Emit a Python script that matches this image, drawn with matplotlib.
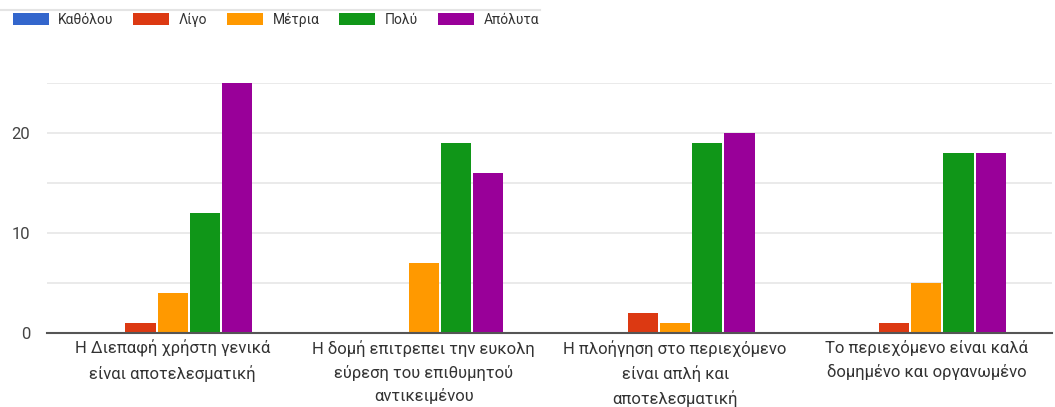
import matplotlib.pyplot as plt
import numpy as np
from matplotlib.lines import Line2D

plt.rcParams['font.family'] = ['Roboto', 'DejaVu Sans']

# Questions (x categories)
questions = [
    "Η Διεπαφή χρήστη γενικά\nείναι αποτελεσματική",
    "Η δομή επιτρεπει την ευκολη\nεύρεση του επιθυμητού\nαντικειμένου",
    "Η πλοήγηση στο περιεχόμενο\nείναι απλή και\nαποτελεσματική",
    "Το περιεχόμενο είναι καλά\nδομημένο και οργανωμένο",
]

# Answer scale and counts per answer
answers = ["Καθόλου", "Λίγο", "Μέτρια", "Πολύ", "Απόλυτα"]
katholou = [0, 0, 0, 0]
ligo = [1, 0, 2, 1]
metria = [4, 7, 1, 5]
poly = [12, 19, 19, 18]
apolyta = [25, 16, 20, 18]

colors = ["#3366cc", "#dc3912", "#ff9900", "#109618", "#990099"]

series = [katholou, ligo, metria, poly, apolyta]

fig = plt.figure(figsize=(10.55, 4.07), dpi=100)
ax = fig.add_axes([47 / 1055, 74 / 407, 1005 / 1055, 250 / 407])

x = np.arange(len(questions))
width = 0.128
for i, (vals, name) in enumerate(zip(series, answers)):
    offset = (i - 2) * width
    ax.bar(x + offset, vals, width * 0.94, color=colors[i], label=name, zorder=3)

ax.set_xlim(-0.5, len(questions) - 0.5)
ax.set_ylim(0, 25)
ax.set_yticks([0, 10, 20])
ax.set_yticks([5, 15, 25], minor=True)
ax.grid(axis='y', which='both', color='#e6e6e6', linewidth=1.2, zorder=0)
ax.tick_params(axis='y', which='both', length=0, labelsize=12, labelcolor='#444444', pad=12)

ax.set_xticks(x)
ax.set_xticklabels(questions, fontsize=12, color='#333333', linespacing=1.6)
ax.tick_params(axis='x', length=0, pad=5)

for side in ['top', 'right', 'left']:
    ax.spines[side].set_visible(False)
ax.spines['bottom'].set_color('#555555')
ax.spines['bottom'].set_linewidth(1.5)
ax.spines['bottom'].set_zorder(4)

# Legend along the top
fig.legend(loc='upper left', bbox_to_anchor=(0.0, 1.0), ncol=5, frameon=False,
           fontsize=10, handlelength=2.6, handleheight=1.0, columnspacing=1.4,
           handletextpad=0.7, labelcolor='#333333')

fig.add_artist(Line2D([0, 540 / 1055], [397 / 407, 397 / 407], color='#e4e4e4', linewidth=1.5))

fig.savefig('out.png', dpi=100)
